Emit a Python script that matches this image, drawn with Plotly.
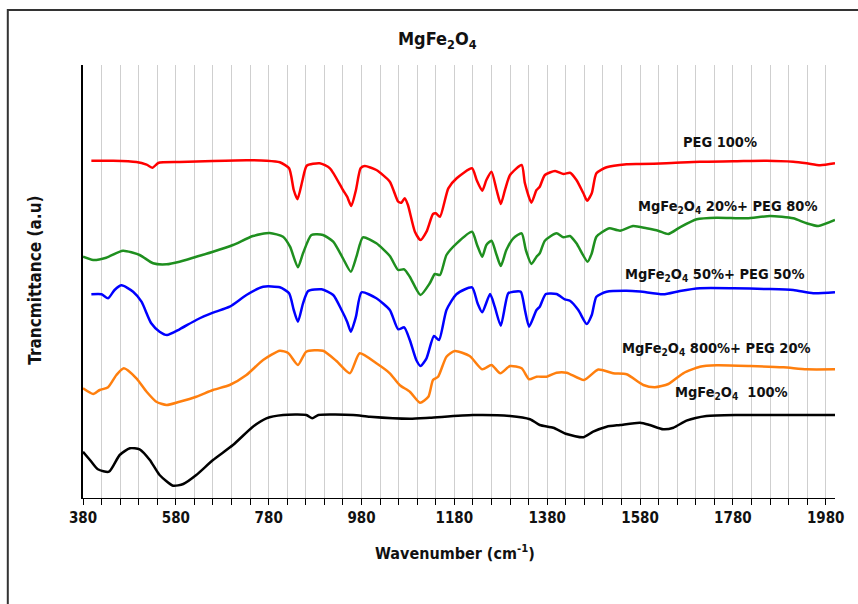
import plotly.graph_objects as go

# Wavenumber (cm-1) and transmittance (a.u., offset traces)
peg_x = [398, 445, 495, 517, 530, 542, 588, 660, 732, 775, 804, 824, 834, 842, 853, 862, 890, 912, 940, 949, 958, 968, 978, 987,
         1012, 1041, 1059, 1066, 1073, 1080, 1095, 1107, 1120, 1134, 1140, 1149, 1167, 1185, 1218, 1228, 1240, 1249, 1260, 1271,
         1280, 1289, 1300, 1325, 1332, 1346, 1357, 1364, 1375, 1397, 1415, 1429, 1443, 1458, 1466, 1476, 1486, 1508, 1551, 1580,
         1637, 1709, 1781, 1853, 1910, 1939, 1968, 2000]
peg_y = [337.3, 337.3, 336, 333.3, 330.3, 335, 336, 337, 337.7, 337.3, 335.7, 329.7, 308, 298.7, 318, 332.3, 334.7, 329.7, 308,
         301.3, 292, 308, 329.7, 332, 328, 316.3, 296.3, 295.3, 299.7, 293, 266.3, 258, 266.3, 284, 284.7, 281.3, 309.7, 319.7,
         329.7, 318, 307.3, 318, 326.3, 308, 294, 308, 323, 333, 314.7, 295.3, 308, 311.3, 323, 327, 324, 325.3, 318, 304.7,
         297.3, 304.7, 324.7, 330.7, 333.7, 334, 334.7, 336.3, 336.7, 337.3, 336.3, 334.7, 332.7, 334.7]

m20_x = [380, 402, 430, 466, 502, 531, 560, 588, 624, 660, 703, 746, 782, 811, 826, 843, 854, 872, 897, 919, 940, 957, 969, 983,
         1012, 1041, 1059, 1072, 1084, 1107, 1127, 1138, 1149, 1163, 1185, 1218, 1229, 1240, 1249, 1260, 1271, 1280, 1292, 1307,
         1325, 1334, 1346, 1357, 1364, 1375, 1400, 1415, 1429, 1443, 1467, 1476, 1486, 1508, 1515, 1537, 1565, 1594, 1619, 1641,
         1666, 1702, 1745, 1810, 1860, 1910, 1939, 1964, 2000]
m20_y = [241.3, 238, 240.3, 247.3, 243, 234.7, 233.7, 236.3, 241.3, 246.3, 253, 262, 265, 261.3, 251.3, 230.7, 244.7, 263, 263,
         256.3, 239.7, 226.3, 241.3, 260.7, 254.7, 242, 228, 228.7, 221.3, 203, 214.7, 224, 223, 243, 254.7, 266.3, 253, 241.3,
         253, 257.3, 243, 232, 248, 259.7, 264.7, 248, 234, 241.3, 244.7, 257.3, 264.7, 260.7, 262, 254.7, 236.3, 244.7, 261.3,
         268.7, 269.7, 267.3, 272, 269.7, 267.3, 264, 270.7, 278.7, 280.3, 279.7, 282, 279.7, 274.7, 272, 278]

m50_x = [398, 420, 434, 448, 463, 488, 506, 527, 545, 561, 588, 624, 660, 696, 732, 768, 804, 824, 834, 843, 854, 865, 894, 919,
         937, 949, 957, 968, 980, 1012, 1041, 1059, 1072, 1084, 1098, 1107, 1120, 1136, 1147, 1163, 1185, 1218, 1230, 1240, 1257,
         1267, 1280, 1296, 1307, 1323, 1332, 1341, 1357, 1364, 1377, 1400, 1418, 1429, 1447, 1465, 1476, 1486, 1508, 1551, 1580,
         1630, 1666, 1709, 1781, 1853, 1910, 1953, 2000]
m50_y = [203.7, 203.7, 199.7, 208, 212.7, 206.3, 196.3, 174.7, 166.3, 163, 168.7, 178, 185.3, 191.3, 203, 211.3, 210.7, 204.7,
         188, 176.3, 194.7, 207, 208.7, 203, 188, 176.3, 166.3, 181.3, 205.7, 199.7, 188, 168.7, 170.7, 158, 138, 132, 139.7, 162,
         158, 188, 204, 210.7, 194.7, 185.7, 204, 191.3, 172.3, 204.7, 206.3, 206.3, 188, 171.3, 188, 191.3, 204, 204, 198.7,
         197.3, 188, 174, 183, 201.3, 206.3, 207.3, 206.5, 203.7, 207, 209.7, 209.7, 209, 208, 204.7, 205.7]

m80_x = [380, 402, 416, 434, 452, 468, 495, 517, 538, 560, 588, 624, 660, 696, 732, 768, 804, 822, 843, 861, 897, 926, 955, 976,
         1012, 1041, 1062, 1084, 1106, 1124, 1134, 1145, 1163, 1181, 1213, 1240, 1260, 1279, 1300, 1325, 1341, 1357, 1379, 1400,
         1422, 1459, 1490, 1522, 1551, 1587, 1612, 1641, 1673, 1709, 1745, 1817, 1889, 1939, 2000]
m80_y = [109.7, 104, 108, 110.7, 123, 129.7, 119.7, 106.3, 96.3, 93, 96.3, 101.3, 108, 113, 123, 138, 147.3, 145, 133, 146.3,
         147.3, 137, 124.7, 144.7, 134.7, 124.7, 113, 106.3, 95.3, 101.3, 118, 121.3, 141.3, 147, 142, 128.7, 133, 124.7, 132,
         129.7, 118.7, 121.3, 121.3, 125.3, 125.3, 118, 128.5, 124.7, 123.7, 113, 110.7, 114, 124.7, 131.3, 132.7, 132, 130.7,
         128.7, 128.7]

mg_x = [380, 395, 412, 436, 459, 481, 502, 524, 545, 574, 596, 624, 660, 703, 746, 775, 811, 861, 874, 887, 962, 998, 1084,
        1127, 1220, 1300, 1343, 1364, 1393, 1422, 1458, 1479, 1508, 1537, 1580, 1601, 1630, 1652, 1680, 1723, 1795, 2000]
mg_y = [46.3, 38, 28.7, 26.3, 43, 49.7, 48.7, 38, 23, 12.3, 14, 23, 38, 53, 71.3, 79.7, 83, 83, 79.7, 83, 83, 81.3, 79.3, 80.3,
        83, 82, 78.7, 73, 70.3, 64, 60.7, 66.3, 71.3, 73, 75.3, 73, 68.7, 70.3, 77.3, 82, 83, 83]

series_names = ["PEG 100%",
                "MgFe<sub>2</sub>O<sub>4</sub> 20%+ PEG 80%",
                "MgFe<sub>2</sub>O<sub>4</sub> 50%+ PEG 50%",
                "MgFe<sub>2</sub>O<sub>4</sub> 800%+ PEG 20%",
                "MgFe<sub>2</sub>O<sub>4</sub>  100%"]
label_x = [1752, 1769, 1741, 1745, 1778]
label_y = [356, 291, 223, 149, 105]

x_major = list(range(380, 1981, 200))
x_major_text = ["<b>%d</b>" % v for v in x_major]

colors = ["#ff0000", "#1f8f1f", "#0000ff", "#ff7f0e", "#000000"]
xs = [peg_x, m20_x, m50_x, m80_x, mg_x]
ys = [peg_y, m20_y, m50_y, m80_y, mg_y]

FONT = "Liberation Sans Narrow, Arial Narrow, DejaVu Sans Condensed, sans-serif"

fig = go.Figure()
for x, y, c, n in zip(xs, ys, colors, series_names):
    fig.add_trace(go.Scatter(x=x, y=y, mode="lines", name=n,
                             line=dict(color=c, width=2.5, shape="spline", smoothing=0.6)))

for t, lx, ly in zip(series_names, label_x, label_y):
    fig.add_annotation(x=lx, y=ly, xref="x", yref="y", text="<b>" + t + "</b>", showarrow=False,
                       font=dict(family=FONT, size=14.5, color="#111"))

fig.add_annotation(x=0.471, y=1.0577, xref="paper", yref="paper", yanchor="middle",
                   text="<b>MgFe<sub>2</sub>O<sub>4</sub></b>",
                   showarrow=False, font=dict(family=FONT, size=18, color="#111"))
fig.add_annotation(x=0.4945, y=-0.127, xref="paper", yref="paper", yanchor="middle",
                   text="<b>Wavenumber (cm<sup>-1</sup>)</b>",
                   showarrow=False, font=dict(family=FONT, size=16, color="#111"))
fig.add_annotation(x=-0.0643, y=0.5035, xref="paper", yref="paper", xanchor="center", yanchor="middle",
                   text="<b>Trancmittance (a.u)</b>",
                   textangle=-90, showarrow=False, font=dict(family=FONT, size=17, color="#111"))

fig.add_shape(type="rect", xref="paper", yref="paper", x0=-0.1, y0=-0.3, x1=1.2, y1=1.127,
              line=dict(color="#333333", width=2), layer="below")

fig.update_layout(
    width=858, height=604,
    margin=dict(l=83, r=23, t=65, b=106),
    paper_bgcolor="white", plot_bgcolor="white",
    showlegend=False,
    xaxis=dict(range=[380, 2000], tickmode="array", tickvals=x_major, ticktext=x_major_text,
               showgrid=True, gridcolor="#cfcfcf", gridwidth=1, zeroline=False,
               showline=True, linecolor="#000", linewidth=1, ticks="outside", ticklen=6, tickcolor="#000",
               tickfont=dict(family=FONT, size=15, color="#111"),
               minor=dict(tick0=380, dtick=40, showgrid=True, gridcolor="#cfcfcf", gridwidth=1,
                          ticks="outside", ticklen=6, tickcolor="#000")),
    yaxis=dict(range=[0, 433], showgrid=False, zeroline=False, showticklabels=False,
               showline=True, linecolor="#000", linewidth=2, ticks=""),
)

fig.write_html("out.html")
